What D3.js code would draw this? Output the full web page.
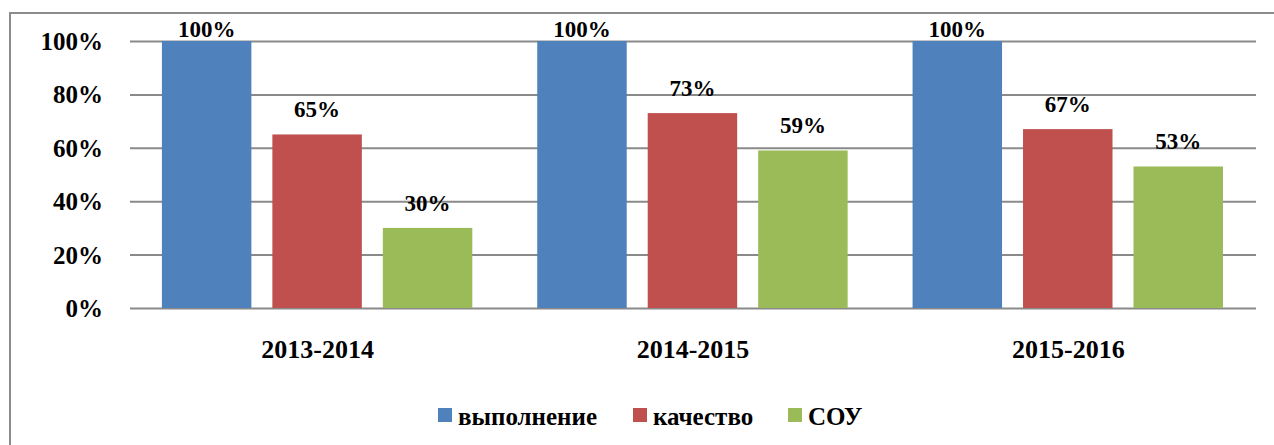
<!DOCTYPE html>
<html>
<head>
<meta charset="utf-8">
<script src="https://cdn.jsdelivr.net/npm/d3@7"></script>
<style>
  body { margin: 0; background: #fff; }
  svg text { font-family: "Times New Roman", "Liberation Serif", Tinos, "DejaVu Serif", serif !important; font-weight: bold; fill: #000; }
</style>
</head>
<body>
<div id="chart"></div>
<script>
// chart data
const years = ["2013-2014", "2014-2015", "2015-2016"];
const series = ["выполнение", "качество", "СОУ"];
const colors = ["#4F81BD", "#C0504D", "#9BBB59"];
const vypolnenie = [1.00, 1.00, 1.00];
const kachestvo = [0.65, 0.73, 0.67];
const sou = [0.30, 0.59, 0.53];
const yTicks = [0, 0.2, 0.4, 0.6, 0.8, 1.0];

const values = [vypolnenie, kachestvo, sou];

const W = 1274, H = 445;
const margin = {top: 41, right: 18, bottom: 137, left: 130},
    width = W - margin.left - margin.right,
    height = H - margin.top - margin.bottom;

const svg = d3.select("#chart")
    .append("svg")
    .attr("width", W)
    .attr("height", H);

// outer frame (only left and top edges are visible)
svg.append("path")
    .attr("d", "M10,445 L10,13 L1274,13")
    .attr("fill", "none")
    .attr("stroke", "#8c8c8c")
    .attr("stroke-width", 2);

const g = svg.append("g")
    .attr("transform", "translate(" + margin.left + "," + margin.top + ")");

// scales
const x0 = d3.scaleBand()
    .domain(years)
    .range([0, width])
    .padding(0);

const x1 = d3.scaleBand()
    .domain(series)
    .range([x0.bandwidth() * 0.085, x0.bandwidth() * 0.912])
    .paddingInner(0.19)
    .paddingOuter(0);

const y = d3.scaleLinear()
    .domain([0, 1])
    .range([height, 0]);

// gridlines + y labels
g.append("g")
    .call(d3.axisLeft(y).tickValues(yTicks).tickSize(-width).tickFormat(d3.format(".0%")))
    .call(a => a.select(".domain").remove())
    .call(a => a.selectAll("line").attr("stroke", "#8a8a8a").attr("stroke-width", 2))
    .call(a => a.selectAll("text")
        .attr("x", -27)
        .attr("dy", "0.34em")
        .style("font-size", "25px")
        .attr("fill", "#000"));

// bars
const groups = g.selectAll(".grp")
    .data(years)
    .enter()
    .append("g")
    .attr("transform", d => "translate(" + x0(d) + ",0)");

groups.selectAll("rect")
    .data((d, i) => series.map((s, j) => ({s: s, v: values[j][i], c: colors[j]})))
    .enter()
    .append("rect")
    .attr("x", d => x1(d.s))
    .attr("y", d => y(d.v))
    .attr("width", x1.bandwidth())
    .attr("height", d => height - y(d.v))
    .attr("fill", d => d.c);

// value labels
groups.selectAll(".lbl")
    .data((d, i) => series.map((s, j) => ({s: s, v: values[j][i]})))
    .enter()
    .append("text")
    .attr("x", d => x1(d.s) + x1.bandwidth() / 2)
    .attr("y", d => Math.max(y(d.v) - 17, y(1) - 4))
    .attr("text-anchor", "middle")
    .style("font-size", "23px")
    .text(d => d3.format(".0%")(d.v));

// category labels
g.append("g")
    .attr("transform", "translate(0," + height + ")")
    .call(d3.axisBottom(x0).tickSize(0).tickPadding(0))
    .call(a => a.select(".domain").remove())
    .call(a => a.selectAll("text")
        .attr("y", 50)
        .attr("dy", 0)
        .style("font-size", "26px")
        .attr("fill", "#000"));

// legend
const legendX = [438, 633, 788];
const legend = svg.append("g");
series.forEach((s, i) => {
    legend.append("rect")
        .attr("x", legendX[i])
        .attr("y", 408)
        .attr("width", 14)
        .attr("height", 14)
        .attr("fill", colors[i]);
    legend.append("text")
        .attr("x", legendX[i] + 20)
        .attr("y", 425)
        .style("font-size", "25px")
        .text(s);
});
</script>
</body>
</html>
